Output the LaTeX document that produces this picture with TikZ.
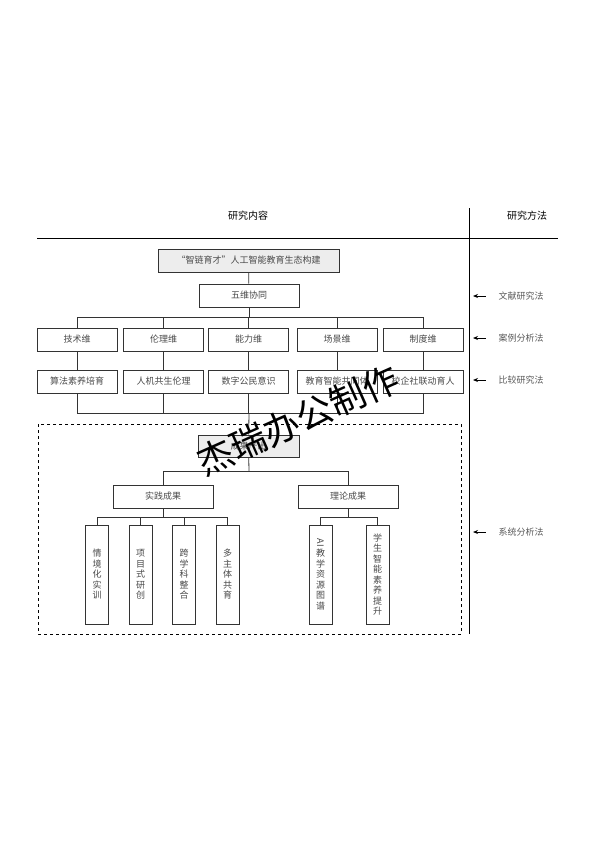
\documentclass[tikz,border=0pt]{standalone}
\usepackage{fontspec}
\setmainfont{Noto Sans CJK SC}
\usetikzlibrary{arrows.meta}
\definecolor{boxtext}{HTML}{4A4A4A}
\definecolor{boxfill}{HTML}{EDEDED}
\begin{document}
\begin{tikzpicture}[x=1pt, y=-1pt,
    box/.style={draw=black!80, line width=0.8pt, fill=white, minimum width=80pt, minimum height=23pt, inner sep=1pt, text=boxtext, font=\fontsize{9}{10}\selectfont},
    leaf/.style={box, minimum width=23pt, minimum height=99pt, text width=12pt, align=center, font=\fontsize{9}{10.5}\selectfont},
    method/.style={text=black!65, font=\fontsize{9}{10}\selectfont},
    arrow/.style={-{Stealth[length=5pt, width=4pt]}, line width=1pt},
    link/.style={line width=0.8pt, black!80}
]
    \useasboundingbox (0,0) rectangle (594,841);

    % Headings and frame lines
    \node[font=\fontsize{10}{12}\selectfont] (head1) at (248,216) {研究内容};
    \node[font=\fontsize{10}{12}\selectfont] (head2) at (527,216) {研究方法};
    \draw[line width=0.8pt] (37,238) -- (558,238);
    \draw[line width=0.8pt] (469,208) -- (469,634);

    % Top of the tree
    \node[box, fill=boxfill, minimum width=181pt] (top) at (248.5,260.5) {“智链育才”人工智能教育生态构建};
    \node[box, minimum width=100pt] (wuwei) at (249,295.5) {五维协同};

    % Five dimensions
    \node[box] (jishu) at (77,339.5) {技术维};
    \node[box] (lunli) at (163.5,339.5) {伦理维};
    \node[box] (nengli) at (248.5,339.5) {能力维};
    \node[box] (changjing) at (337,339.5) {场景维};
    \node[box] (zhidu) at (423,339.5) {制度维};

    \node[box] (suanfa) at (77,381.5) {算法素养培育};
    \node[box] (renji) at (163.5,381.5) {人机共生伦理};
    \node[box] (shuzi) at (248.5,381.5) {数字公民意识};
    \node[box] (jiaoyu) at (337,381.5) {教育智能共同体};
    \node[box] (xiaoqi) at (423,381.5) {校企社联动育人};

    \coordinate (bus1) at (249,317);
    \coordinate (bus2) at (249,413);
    \draw[link] (top) -- (wuwei);
    \draw[link] (wuwei) -- (bus1);
    \foreach \d/\e in {jishu/suanfa, lunli/renji, nengli/shuzi, changjing/jiaoyu, zhidu/xiaoqi} {
        \draw[link] (\d.north) |- (bus1);
        \draw[link] (\d) -- (\e);
        \draw[link] (\e.south) |- (bus2);
    }

    % Results
    \draw[dashed, line width=0.8pt] (38,424) rectangle (461,634);
    \node[box, fill=boxfill, minimum width=101pt, minimum height=22pt] (chengguo) at (248.5,446) {成果产出};
    \draw[link] (bus2) -- (chengguo);

    \node[box, minimum width=100pt] (shijian) at (163,496.5) {实践成果};
    \node[box, minimum width=100pt] (lilun) at (348,496.5) {理论成果};
    \coordinate (bus3) at (249,471);
    \draw[link] (chengguo) -- (bus3);
    \draw[link] (shijian.north) |- (bus3);
    \draw[link] (lilun.north) |- (bus3);

    \node[leaf] (qingjing) at (97,574.5) {情\\境\\化\\实\\训};
    \node[leaf] (xiangmu) at (140.5,574.5) {项\\目\\式\\研\\创};
    \node[leaf] (kuaxue) at (184,574.5) {跨\\学\\科\\整\\合};
    \node[leaf] (duozhu) at (227.5,574.5) {多\\主\\体\\共\\育};
    \node[leaf] (ziyuan) at (320.5,574.5) {\rotatebox[origin=c]{-90}{AI}\\教\\学\\资\\源\\图\\谱};
    \node[leaf] (suyang) at (377.5,574.5) {学\\生\\智\\能\\素\\养\\提\\升};

    \coordinate (bus4) at (163,517);
    \coordinate (bus5) at (349,517);
    \draw[link] (shijian) -- (bus4);
    \draw[link] (lilun.south) -- (lilun.south |- bus5);
    \foreach \l in {qingjing, xiangmu, kuaxue, duozhu}
        \draw[link] (\l.north) |- (bus4);
    \foreach \l in {ziyuan, suyang}
        \draw[link] (\l.north) |- (bus5);

    % Methods
    \node[method] (m1) at (521,296) {文献研究法};
    \node[method] (m2) at (521,338) {案例分析法};
    \node[method] (m3) at (521,380) {比较研究法};
    \node[method] (m4) at (521,532) {系统分析法};
    \foreach \m in {m1, m2, m3, m4} {
        \coordinate (\m tip) at (473, 0 |- \m);
        \draw[arrow, shorten <=9pt] (\m.west) -- (\m tip);
    }

    % Watermark
    \node[rotate=24, font=\fontsize{36}{36}\selectfont] (mark) at (298,420) {杰瑞办公制作};
\end{tikzpicture}
\end{document}
